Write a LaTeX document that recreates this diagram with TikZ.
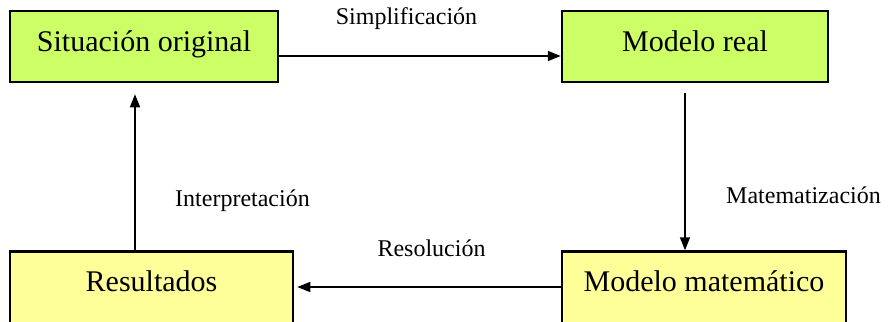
\documentclass[tikz,border=0pt]{standalone}
\usepackage{fontspec}
\setmainfont{Liberation Serif}
\usetikzlibrary{arrows.meta}
\begin{document}
\begin{tikzpicture}[x=1pt,y=-1pt,
  box/.style={draw=black, line width=2.5pt, inner sep=0pt,
    minimum height=71pt, text height=22pt, text depth=11pt,
    font=\fontsize{30}{36}\selectfont},
  greenbox/.style={box, fill={rgb,255:red,204;green,255;blue,102}},
  yellowbox/.style={box, minimum height=76pt, text depth=19pt,
    fill={rgb,255:red,255;green,255;blue,153}},
  lbl/.style={anchor=base, inner sep=0pt, font=\fontsize{24}{28}\selectfont},
  arr/.style={line width=1.6pt, -{Triangle[length=13pt,width=10pt]}}]
\useasboundingbox (0,0) rectangle (890,321);
\clip (0,0) rectangle (890,321);

% the four stages
\node[greenbox, minimum width=268pt] (sit) at (144,46.5) {Situación original};
\node[greenbox, minimum width=266pt] (real) at (695,46.5) {Modelo real};
\node[yellowbox, minimum width=283pt] (res) at (151.5,289.5) {Resultados};
\node[yellowbox, minimum width=284pt] (mat) at (704,289.5) {Modelo matemático};

% transitions between stages
\draw[arr] ([yshift=-9.5pt]sit.east) -- ([yshift=-9.5pt]real.west);
\draw[arr] ([xshift=-10pt,yshift=-10pt]real.south) -- ([xshift=-19pt]mat.north);
\draw[arr] ([yshift=2.5pt]mat.west) -- ([xshift=3pt,yshift=2.5pt]res.east);
\draw[arr] ([xshift=-16.5pt]res.north) -- ([xshift=-9pt,yshift=-11pt]sit.south);

% transition names
\node[lbl] (simp) at (406.5,25) {Simplificación};
\node[lbl] (matz) at (803.5,203) {Matematización};
\node[lbl] (interp) at (242.5,206) {Interpretación};
\node[lbl] (resol) at (431.5,256) {Resolución};
\end{tikzpicture}
\end{document}
